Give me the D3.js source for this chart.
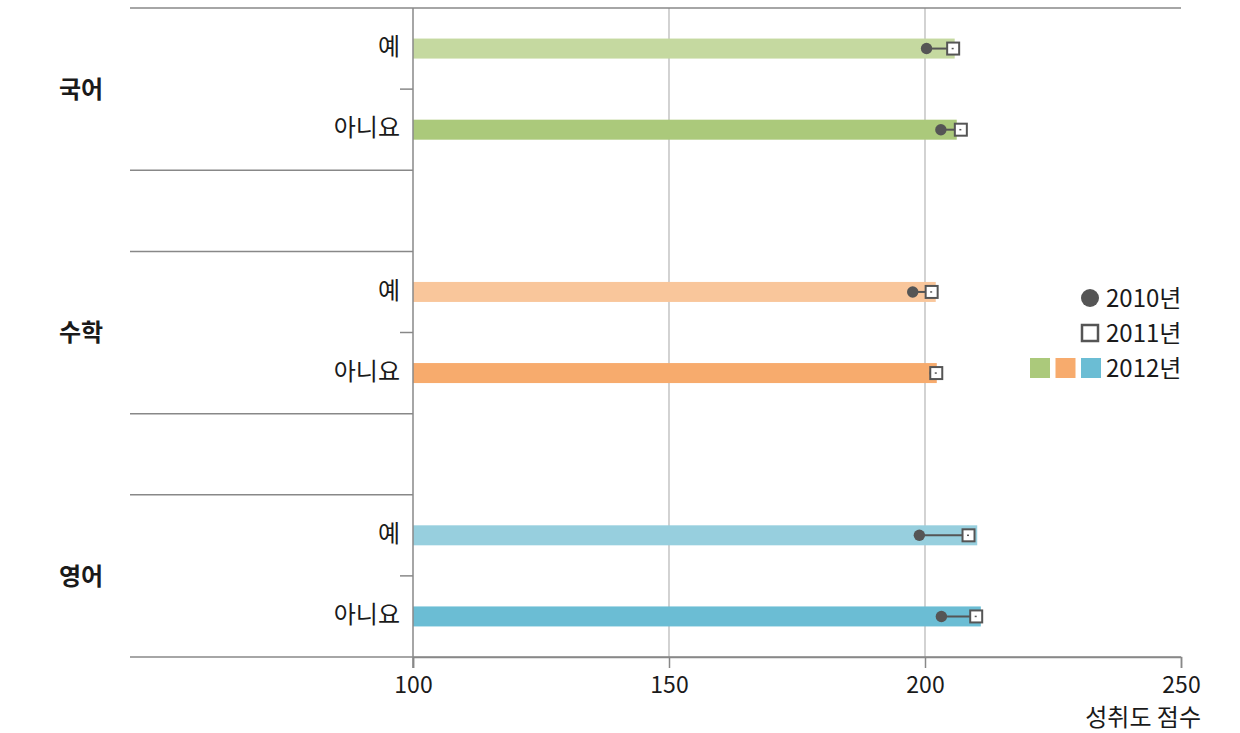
<!DOCTYPE html>
<html>
<head>
<meta charset="utf-8">
<style>
  body { margin: 0; background: #fff; }
  text { font-family: 'Noto Sans CJK KR', 'Noto Sans', sans-serif; fill: #1a1a1a; }
  .sub { font-size: 24px; font-weight: 400; }
  .grp { font-size: 24px; font-weight: 700; }
  .tick text { font-size: 23px; font-weight: 400; }
</style>
</head>
<body>
<div id="chart"></div>
<script src="https://d3js.org/d3.v7.min.js"></script>
<script>
  // data
  const subjects = ["국어", "수학", "영어"];
  const answers = ["예", "아니요"];
  const y2010 = [[200.3, 203.1], [197.6, 202.0], [198.9, 203.2]];
  const y2011 = [[205.5, 207.0], [201.3, 202.2], [208.5, 210.0]];
  const y2012 = [[205.8, 206.2], [202.1, 202.3], [210.2, 210.9]];
  const barColours = [["#c5d9a0", "#abc97b"], ["#f9c69b", "#f7ab6d"], ["#97cfde", "#6bbdd4"]];
  const legendLabels = ["2010년", "2011년", "2012년"];

  const W = 1240, H = 733;
  const mLeft = 413, mRight = 1181, mTop = 8, mBottom = 657, labelLeft = 130;
  const markColour = "#555";

  const svg = d3.select("#chart").append("svg")
    .attr("width", W).attr("height", H);

  const x = d3.scaleLinear().domain([100, 250]).range([mLeft, mRight]);

  // groups: 3 bands with half-band gaps between them
  const grp = d3.scaleBand().domain(subjects).range([mTop, mBottom]).paddingInner(1 / 3);
  const sub = d3.scaleBand().domain(answers).range([0, grp.bandwidth()]).paddingInner(0);

  // grid
  svg.selectAll(".grid").data([150, 200]).join("line")
    .attr("x1", d => x(d)).attr("x2", d => x(d))
    .attr("y1", mTop).attr("y2", mBottom)
    .attr("stroke", "#bbb").attr("stroke-width", 1.3);

  // group separators
  subjects.forEach((s, i) => {
    const y0 = grp(s), y1 = grp(s) + grp.bandwidth();
    [y0, y1].forEach(yy => {
      const full = (Math.abs(yy - mTop) < 1 || Math.abs(yy - mBottom) < 1);
      svg.append("line")
        .attr("x1", labelLeft).attr("x2", full ? mRight : mLeft)
        .attr("y1", yy).attr("y2", yy)
        .attr("stroke", "#888").attr("stroke-width", 1.5);
    });
    svg.append("line")
      .attr("x1", mLeft - 13).attr("x2", mLeft)
      .attr("y1", y0 + grp.bandwidth() / 2).attr("y2", y0 + grp.bandwidth() / 2)
      .attr("stroke", "#888").attr("stroke-width", 1.5);
    svg.append("text").attr("class", "grp")
      .attr("x", 59).attr("y", y0 + grp.bandwidth() / 2)
      .attr("dy", "0.36em").text(s);

    answers.forEach((a, j) => {
      const cy = y0 + sub(a) + sub.bandwidth() / 2;
      svg.append("text").attr("class", "sub")
        .attr("x", 400).attr("y", cy - 2).attr("dy", "0.36em")
        .attr("text-anchor", "end").text(a);
      svg.append("rect")
        .attr("x", x(100)).attr("y", cy - 10)
        .attr("width", x(y2012[i][j]) - x(100)).attr("height", 20)
        .attr("fill", barColours[i][j]);
      const x0 = x(y2010[i][j]), x1 = x(y2011[i][j]);
      svg.append("line")
        .attr("x1", x0).attr("x2", x1).attr("y1", cy).attr("y2", cy)
        .attr("stroke", markColour).attr("stroke-width", 2);
      svg.append("circle")
        .attr("cx", x0).attr("cy", cy).attr("r", 5.7).attr("fill", markColour);
      svg.append("rect")
        .attr("x", x1 - 6).attr("y", cy - 6)
        .attr("width", 12).attr("height", 12)
        .attr("fill", "#fff").attr("stroke", markColour).attr("stroke-width", 2);
      svg.append("line")
        .attr("x1", x1 - 1.5).attr("x2", x1 + 0.5).attr("y1", cy).attr("y2", cy)
        .attr("stroke", markColour).attr("stroke-width", 1.5);
    });
  });

  // vertical axis line
  svg.append("line")
    .attr("x1", mLeft).attr("x2", mLeft).attr("y1", mTop).attr("y2", mBottom + 11)
    .attr("stroke", "#888").attr("stroke-width", 1.5);

  // bottom axis
  const ax = svg.append("g").attr("transform", `translate(0,${mBottom})`)
    .call(d3.axisBottom(x).tickValues([100, 150, 200, 250]).tickSize(11).tickPadding(9));
  ax.select(".domain").attr("stroke", "#888").attr("stroke-width", 1.5);
  ax.selectAll(".tick line").attr("stroke", "#888").attr("stroke-width", 1.5);
  ax.selectAll(".tick text").attr("fill", "#1a1a1a").style("font-family", "'Noto Sans CJK KR', sans-serif");

  svg.append("text").attr("class", "sub")
    .attr("x", 1201).attr("y", 717).attr("dy", "0.36em")
    .attr("text-anchor", "end").text("성취도 점수");

  // legend
  const lg = svg.append("g");
  lg.append("circle").attr("cx", 1090).attr("cy", 298).attr("r", 9).attr("fill", markColour);
  lg.append("rect").attr("x", 1082).attr("y", 325).attr("width", 16).attr("height", 16)
    .attr("fill", "#fff").attr("stroke", markColour).attr("stroke-width", 2.5);
  [barColours[0][1], barColours[1][1], barColours[2][1]].forEach((c, k) => {
    lg.append("rect").attr("x", 1030 + k * 25.5).attr("y", 358)
      .attr("width", 20).attr("height", 20).attr("fill", c);
  });
  legendLabels.forEach((t, k) => {
    lg.append("text").attr("class", "sub")
      .attr("x", 1106).attr("y", 298 + k * 35).attr("dy", "0.36em").text(t);
  });
</script>
</body>
</html>
